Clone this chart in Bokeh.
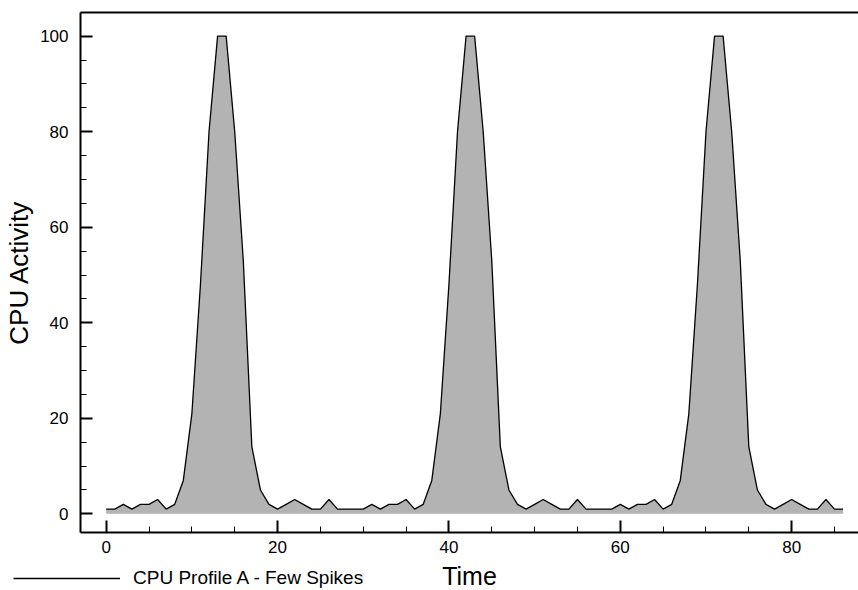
from bokeh.plotting import figure
from bokeh.models import (Range1d, LinearAxis, SingleIntervalTicker, FixedTicker,
                          Legend, LegendItem, ColumnDataSource)
from bokeh.embed import file_html
from bokeh.resources import INLINE

# ---- data ----
time = list(range(87))
cpu = [1, 1, 2, 1, 2, 2, 3, 1, 2,
       7, 21, 48, 80, 100, 100, 80, 53, 14,
       5, 2, 1, 2, 3, 2, 1, 1, 3, 1, 1,
       1, 1, 2, 1, 2, 2, 3, 1, 2,
       7, 21, 48, 80, 100, 100, 80, 53, 14,
       5, 2, 1, 2, 3, 2, 1, 1, 3, 1, 1,
       1, 1, 2, 1, 2, 2, 3, 1, 2,
       7, 21, 48, 80, 100, 100, 80, 53, 14,
       5, 2, 1, 2, 3, 2, 1, 1, 3, 1, 1]
series_name = "CPU Profile A - Few Spikes"
x_title = "Time"
y_title = "CPU Activity"

FONT = "Liberation Sans"

# visible axis box (data units) and the pixel margins around it
X0, X1 = -3.0, 87.8
Y0, Y1 = -3.9, 104.95
W, H = 858, 590
LEFT, RIGHT, TOP, BOTTOM = 80, 0, 12, 58
kx = (W - LEFT - RIGHT) / (X1 - X0)
ky = (H - TOP - BOTTOM) / (Y1 - Y0)

src = ColumnDataSource(dict(t=time, cpu=cpu))

p = figure(width=W, height=H,
           x_range=Range1d(X0 - LEFT / kx, X1 + RIGHT / kx),
           y_range=Range1d(Y0 - BOTTOM / ky, Y1 + TOP / ky),
           output_backend="svg", toolbar_location=None,
           min_border_left=0, min_border_right=0,
           min_border_top=0, min_border_bottom=0)

p.varea(x='t', y1=0, y2='cpu', source=src, fill_color="#b3b3b3")
ln = p.line('t', 'cpu', source=src, line_color='black', line_width=1.3)

p.xgrid.visible = False
p.ygrid.visible = False
p.outline_line_color = None
p.background_fill_color = "white"
p.border_fill_color = "white"

def style_axis(ax, title_size):
    ax.axis_line_width = 2
    ax.axis_line_color = "black"
    ax.major_tick_in = 12
    ax.major_tick_out = 0
    ax.minor_tick_in = 6
    ax.minor_tick_out = 0
    ax.major_tick_line_width = 2
    ax.minor_tick_line_width = 1
    ax.major_tick_line_color = "black"
    ax.minor_tick_line_color = "black"
    ax.major_label_text_font = FONT
    ax.major_label_text_font_size = "17px"
    ax.major_label_text_color = "black"
    ax.axis_label_text_font = FONT
    ax.axis_label_text_font_size = title_size
    ax.axis_label_text_font_style = "normal"
    ax.axis_label_text_color = "black"

xa = p.xaxis[0]
xa.ticker = SingleIntervalTicker(interval=20, num_minor_ticks=4)
style_axis(xa, "25px")
xa.fixed_location = Y0
xa.bounds = (X0, X1)
xa.axis_label = x_title
xa.major_label_standoff = 8
xa.axis_label_standoff = 6

ya = p.yaxis[0]
ya.ticker = SingleIntervalTicker(interval=20, num_minor_ticks=4)
style_axis(ya, "26px")
ya.fixed_location = X0
ya.bounds = (Y0, Y1)
ya.axis_label = y_title
ya.major_label_standoff = 12
ya.axis_label_standoff = 3

top = LinearAxis(ticker=FixedTicker(ticks=[]), axis_line_width=2, axis_line_color="black",
                 major_tick_in=0, major_tick_out=0, minor_tick_in=0, minor_tick_out=0,
                 major_label_text_font_size="0px", major_label_standoff=0,
                 fixed_location=Y1, bounds=(X0, X1))
p.add_layout(top, "above")

legend = Legend(items=[LegendItem(label=series_name, renderers=[ln])],
                location=(13, 1.5), glyph_width=107, glyph_height=20,
                label_standoff=13, padding=0, margin=0, spacing=0,
                border_line_color=None, background_fill_alpha=0,
                label_text_font=FONT, label_text_font_size="19px",
                label_text_color="black")
p.add_layout(legend)

open("out.html", "w").write(file_html(p, INLINE))
